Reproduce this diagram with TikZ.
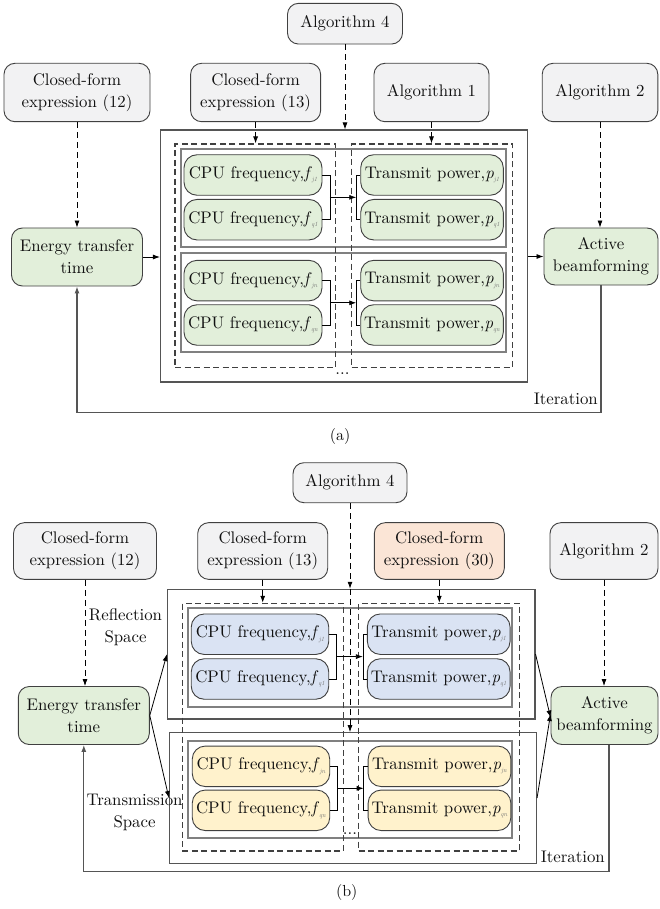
\documentclass[tikz,border=0pt]{standalone}
\usepackage{fontspec}
\setmainfont{lmroman10-regular.otf}[ItalicFont=lmroman10-italic.otf,BoldFont=lmroman10-bold.otf]
\usetikzlibrary{arrows.meta,calc}
\definecolor{txtc}{HTML}{111111}
\definecolor{bordc}{HTML}{404040}
\definecolor{outc}{HTML}{555555}
\definecolor{innc}{HTML}{808080}
\definecolor{dashc}{HTML}{404040}
\definecolor{subc}{HTML}{707070}
\definecolor{gryf}{HTML}{F2F2F3}
\definecolor{grnf}{HTML}{E2EFDA}
\definecolor{bluf}{HTML}{DAE3F3}
\definecolor{yelf}{HTML}{FFF2CC}
\definecolor{pchf}{HTML}{FBE5D6}
\newcommand\fsb[1]{\textit{f}\raisebox{-0.45ex}{\fontsize{6.5}{6.5}\selectfont\color{subc}\textit{#1}}}
\newcommand\psb[1]{\textit{p}\raisebox{-0.45ex}{\fontsize{6.5}{6.5}\selectfont\color{subc}\textit{#1}}}
\tikzset{
  rbox/.style={draw=bordc, line width=0.9pt, rounded corners=11pt, align=center, inner sep=0pt, text=txtc},
  topbox/.style={rbox, fill=gryf},
  gbox/.style={rbox, fill=grnf},
  cellbase/.style={rbox, rounded corners=13pt, minimum height=40.5pt},
  cellg/.style={cellbase, fill=grnf},
  cellb/.style={cellbase, fill=bluf},
  celly/.style={cellbase, fill=yelf},
  outerbox/.style={draw=outc, line width=1.1pt, inner sep=0pt},
  innerbox/.style={draw=innc, line width=1.8pt, inner sep=0pt},
  dbox/.style={draw=dashc, line width=1.1pt, dash pattern=on 6pt off 3.5pt, inner sep=0pt},
  arr/.style={-{Latex[length=7pt,width=5pt]}, line width=0.8pt, draw=black},
  darr/.style={arr, dash pattern=on 6pt off 4pt},
  brk/.style={line width=0.8pt, draw=black},
  iter/.style={-{Latex[length=7pt,width=5pt]}, line width=1.1pt, draw=outc},
  lbl/.style={inner sep=0pt, text=txtc, align=center}
}
\begin{document}
\begin{tikzpicture}[x=1pt,y=-1pt,font=\fontsize{16.8}{22}\selectfont]
\fill[white] (0,0) rectangle (659,909);
\useasboundingbox (0,0) rectangle (659,909);

%%%%%%%%%%%%%%%% (a) %%%%%%%%%%%%%%%%
\node[topbox, minimum width=115pt, minimum height=40.7pt] (alg4a) at (345,23.7) {Algorithm 4};
\node[topbox, minimum width=146pt, minimum height=58.4pt] (cf12a) at (77,92.5) {Closed-form\\expression (12)};
\node[topbox, minimum width=130pt, minimum height=58.4pt] (cf13a) at (255.6,92.5) {Closed-form\\expression (13)};
\node[topbox, minimum width=115pt, minimum height=58.4pt] (alg1a) at (431.5,92.5) {Algorithm 1};
\node[topbox, minimum width=115.6pt, minimum height=58.4pt] (alg2a) at (600,92.5) {Algorithm 2};
\node[gbox, minimum width=131pt, minimum height=58pt] (eta) at (77,257) {Energy transfer\\time};
\node[gbox, minimum width=114pt, minimum height=57pt] (aba) at (601,256.5) {Active\\beamforming};

\node[outerbox, minimum width=366.8pt, minimum height=252pt] (mainA) at (343.9,256) {};
\node[innerbox, minimum width=325pt, minimum height=98.3pt] (in1a) at (343.2,198.15) {};
\node[innerbox, minimum width=325pt, minimum height=99pt] (in2a) at (343.2,302.2) {};
\node[dbox, minimum width=160.7pt, minimum height=223.3pt] (dLa) at (255.35,255.65) {};
\node[dbox, minimum width=161pt, minimum height=223.3pt] (dRa) at (432.2,255.65) {};

\node[cellg, minimum width=138pt] (ca1) at (253,175) {CPU frequency,\fsb{j1}};
\node[cellg, minimum width=138pt] (ca2) at (253,219.7) {CPU frequency,\fsb{q1}};
\node[cellg, minimum width=138pt] (ca3) at (253,280.6) {CPU frequency,\fsb{jn}};
\node[cellg, minimum width=138pt] (ca4) at (253,325) {CPU frequency,\fsb{qn}};
\node[cellg, minimum width=142.6pt] (ta1) at (432,175) {Transmit power,\psb{j1}};
\node[cellg, minimum width=142.6pt] (ta2) at (432,219.7) {Transmit power,\psb{q1}};
\node[cellg, minimum width=142.6pt] (ta3) at (432,280.6) {Transmit power,\psb{jn}};
\node[cellg, minimum width=142.6pt] (ta4) at (432,325) {Transmit power,\psb{qn}};

\draw[brk] (ca1.east) -- ++(7.5,0) coordinate (ka1) |- (ca2.east);
\draw[brk] (ta1.west) -- ++(-4,0) coordinate (ma1) |- (ta2.west);
\draw[arr] ($(ka1)!0.5!(ka1 |- ca2.east)$) -- ($(ma1)!0.5!(ma1 |- ta2.west)$);
\draw[brk] (ca3.east) -- ++(7.5,0) coordinate (ka3) |- (ca4.east);
\draw[brk] (ta3.west) -- ++(-4,0) coordinate (ma3) |- (ta4.west);
\draw[arr] ($(ka3)!0.5!(ka3 |- ca4.east)$) -- ($(ma3)!0.5!(ma3 |- ta4.west)$);

\draw[darr] (alg4a.south) -- (alg4a.south |- mainA.north);
\draw[darr] (cf12a.south) -- (eta.north);
\draw[darr] (cf13a.south) -- (cf13a.south |- dLa.north);
\draw[darr] (alg1a.south) -- (alg1a.south |- dRa.north);
\draw[darr] (alg2a.south) -- (alg2a.south |- aba.north);
\draw[arr] (eta.east) -- (eta.east -| mainA.west);
\draw[arr] (aba.west -| mainA.east) -- (aba.west);

\coordinate (botA) at (0,412.5);
\draw[iter] (aba.south) |- (eta.south |- botA) -- (eta.south);
\node[lbl, anchor=east] (itA) at (598,399) {Iteration};
\node[lbl] (dotsA) at (342.5,374) {...};
\node[lbl, font=\fontsize{16}{20}\selectfont] (capA) at (340,436) {(a)};

%%%%%%%%%%%%%%%% (b) %%%%%%%%%%%%%%%%
\node[topbox, minimum width=114pt, minimum height=40pt] (alg4b) at (350,482.7) {Algorithm 4};
\node[topbox, minimum width=143pt, minimum height=56.7pt] (cf12b) at (85,551) {Closed-form\\expression (12)};
\node[topbox, minimum width=130pt, minimum height=56.7pt] (cf13b) at (262.7,551) {Closed-form\\expression (13)};
\node[rbox, fill=pchf, minimum width=130pt, minimum height=56.7pt] (cf30b) at (439.3,551) {Closed-form\\expression (30)};
\node[topbox, minimum width=108pt, minimum height=56.7pt] (alg2b) at (604,551) {Algorithm 2};
\node[gbox, minimum width=131pt, minimum height=58pt] (etb) at (83.8,715.5) {Energy transfer\\time};
\node[gbox, minimum width=107pt, minimum height=58pt] (abb) at (604.5,715.5) {Active\\beamforming};

\node[outerbox, minimum width=367.5pt, minimum height=129.7pt] (b1) at (351.25,654.15) {};
\node[outerbox, minimum width=367pt, minimum height=130.6pt] (b2) at (353,798) {};
\node[innerbox, minimum width=324.6pt, minimum height=98.7pt] (in1b) at (350,657.35) {};
\node[innerbox, minimum width=324.6pt, minimum height=97.3pt] (in2b) at (350,789.35) {};
\node[dbox, minimum width=161pt, minimum height=247.7pt] (dLb) at (262.8,727.15) {};
\node[dbox, minimum width=160.8pt, minimum height=247.7pt] (dRb) at (439.1,727.15) {};

\node[cellb, minimum width=137.5pt] (cb1) at (260,634.2) {CPU frequency,\fsb{j1}};
\node[cellb, minimum width=137.5pt] (cb2) at (260,679) {CPU frequency,\fsb{q1}};
\node[celly, minimum width=137.5pt] (cb3) at (261,766.3) {CPU frequency,\fsb{jn}};
\node[celly, minimum width=137.5pt] (cb4) at (261,810.3) {CPU frequency,\fsb{qn}};
\node[cellb, minimum width=142.7pt] (tb1) at (438.7,634.2) {Transmit power,\psb{j1}};
\node[cellb, minimum width=142.7pt] (tb2) at (438.7,679) {Transmit power,\psb{q1}};
\node[celly, minimum width=142.7pt] (tb3) at (439.5,766.3) {Transmit power,\psb{jn}};
\node[celly, minimum width=142.7pt] (tb4) at (439.5,810.3) {Transmit power,\psb{qn}};

\draw[brk] (cb1.east) -- ++(7.5,0) coordinate (kb1) |- (cb2.east);
\draw[brk] (tb1.west) -- ++(-4,0) coordinate (mb1) |- (tb2.west);
\draw[arr] ($(kb1)!0.5!(kb1 |- cb2.east)$) -- ($(mb1)!0.5!(mb1 |- tb2.west)$);
\draw[brk] (cb3.east) -- ++(7.5,0) coordinate (kb3) |- (cb4.east);
\draw[brk] (tb3.west) -- ++(-4,0) coordinate (mb3) |- (tb4.west);
\draw[arr] ($(kb3)!0.5!(kb3 |- cb4.east)$) -- ($(mb3)!0.5!(mb3 |- tb4.west)$);

\draw[darr] (alg4b.south) -- (alg4b.south |- b1.north);
\draw[darr] (alg4b.south |- b1.north) -- (alg4b.south |- b2.north);
\draw[darr] (cf12b.south) -- (cf12b.south |- etb.north);
\draw[darr] (cf13b.south) -- (cf13b.south |- dLb.north);
\draw[darr] (cf30b.south) -- (cf30b.south |- dRb.north);
\draw[darr] (alg2b.south) -- (alg2b.south |- abb.north);

\draw[arr] (etb.east) -- (b1.west);
\draw[arr] (etb.east) -- (b2.west);
\draw[arr] (b1.east) -- ([yshift=-2pt]abb.west);
\draw[arr] (b2.east) -- ([yshift=1.5pt]abb.west);

\coordinate (botB) at (0,871.5);
\draw[iter] ([xshift=4.5pt]abb.south) |- (etb.south |- botB) -- (etb.south);
\node[lbl, anchor=east] (itB) at (605,856.7) {Iteration};
\node[lbl] (dotsB) at (350,834) {...};
\node[lbl] (refl) at (125.5,627) {Reflection\\Space};
\node[lbl] (trans) at (134.5,812.5) {Transmission\\Space};
\node[lbl, font=\fontsize{16}{20}\selectfont] (capB) at (346.7,892.7) {(b)};
\end{tikzpicture}
\end{document}
